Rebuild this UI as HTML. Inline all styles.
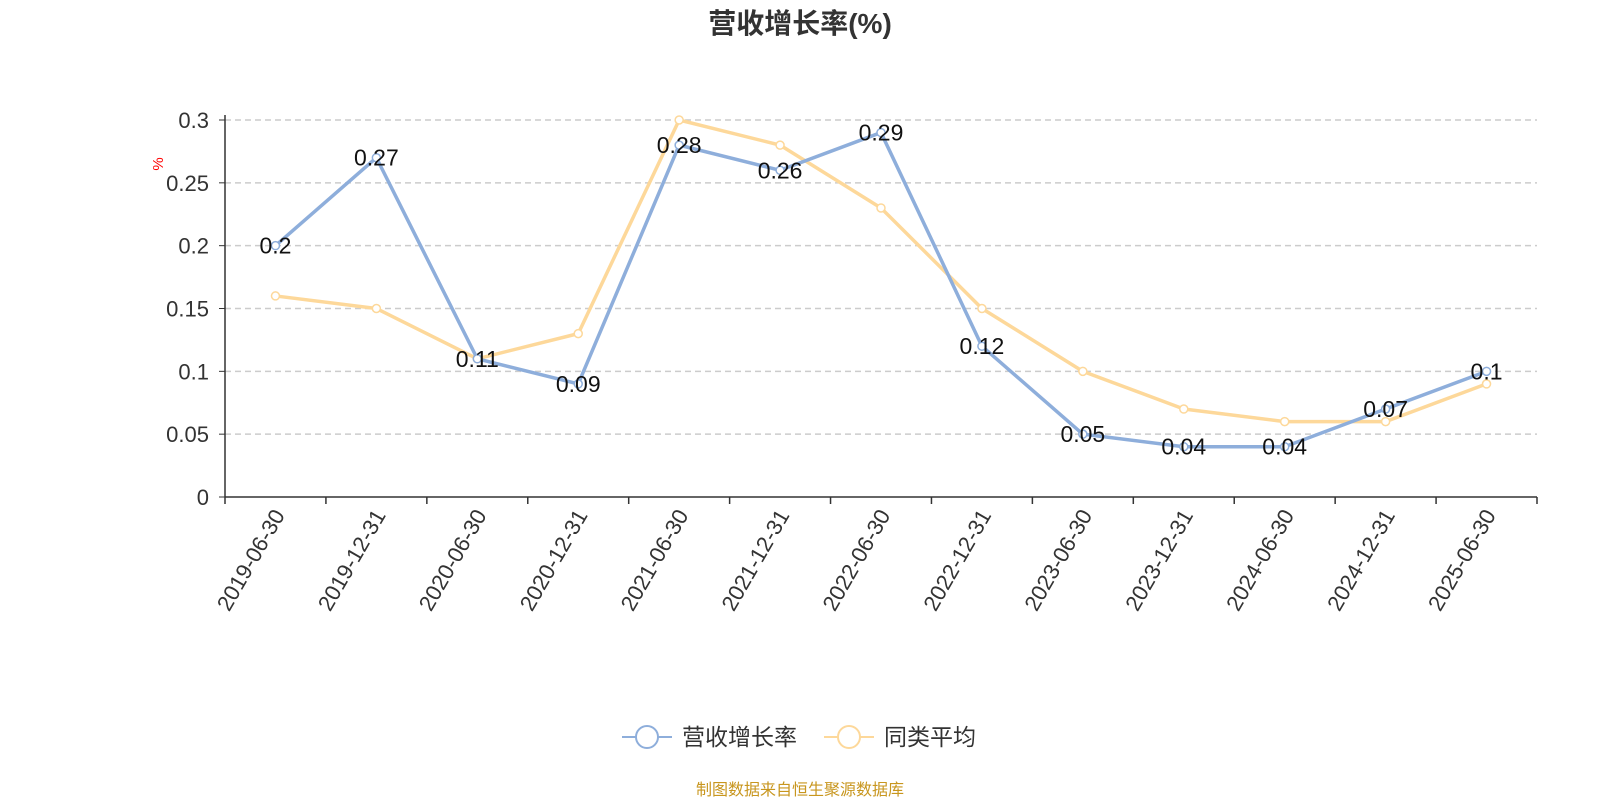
<!DOCTYPE html>
<html><head><meta charset="utf-8"><style>
html,body{margin:0;padding:0;background:#fff;width:1600px;height:800px;overflow:hidden}
svg{display:block;font-family:"Liberation Sans","Noto Sans CJK SC",sans-serif}
</style></head><body>
<svg id="chart" width="1600" height="800" viewBox="0 0 1600 800">
<text x="800" y="33" text-anchor="middle" font-size="28" font-weight="bold" fill="#333">营收增长率(%)</text>
<text x="163" y="164" text-anchor="middle" font-size="15" fill="red" transform="rotate(-90 163 164)">%</text>
<g id="grid"></g>
<g id="axes"></g>
<g id="series"></g>
<g>
<g>
<line x1="622" y1="737" x2="672" y2="737" stroke="#8eaedb" stroke-width="2"/>
<circle cx="647" cy="737" r="11" fill="#fff" stroke="#8eaedb" stroke-width="2"/>
<text x="682" y="745" font-size="23" fill="#333">营收增长率</text></g>
<g>
<line x1="824" y1="737" x2="874" y2="737" stroke="#fdd89a" stroke-width="2"/>
<circle cx="849" cy="737" r="11" fill="#fff" stroke="#fdd89a" stroke-width="2"/>
<text x="884" y="745" font-size="23" fill="#333">同类平均</text></g>
</g>
<text x="800" y="795" text-anchor="middle" font-size="16" fill="#c8961e">制图数据来自恒生聚源数据库</text>
</svg>
<script>
const categories=["2019-06-30","2019-12-31","2020-06-30","2020-12-31","2021-06-30","2021-12-31","2022-06-30","2022-12-31","2023-06-30","2023-12-31","2024-06-30","2024-12-31","2025-06-30"];
const revenueGrowth=[0.2,0.27,0.11,0.09,0.28,0.26,0.29,0.12,0.05,0.04,0.04,0.07,0.1];
const peerAverage=[0.16,0.15,0.11,0.13,0.30,0.28,0.23,0.15,0.10,0.07,0.06,0.06,0.09];
const yTicks=[0,0.05,0.1,0.15,0.2,0.25,0.3];
const yTickLabels=["0","0.05","0.1","0.15","0.2","0.25","0.3"];
const NS="http://www.w3.org/2000/svg";
const L=225,R=1537,T=120,B=497,YMAX=0.3;
const bw=(R-L)/categories.length;
function xPos(i){return L+bw*(i+0.5);}
function yPos(v){return B-(v/YMAX)*(B-T);}
function mk(tag,attrs,parent){const e=document.createElementNS(NS,tag);for(const k in attrs)e.setAttribute(k,attrs[k]);parent.appendChild(e);return e;}
const grid=document.getElementById('grid'),axes=document.getElementById('axes'),series=document.getElementById('series');
yTicks.forEach((v,i)=>{
 if(v>0){const g=mk('line',{x1:L,x2:R,y1:yPos(v),y2:yPos(v),stroke:'#ccc','stroke-dasharray':'6,4','stroke-width':1.5},grid);
 
 }
 const t=mk('text',{x:L-16,y:yPos(v)+8,'text-anchor':'end','font-size':22,fill:'#333'},axes);
 t.textContent=yTickLabels[i];
 
 
 mk('line',{x1:L-6,x2:L,y1:yPos(v),y2:yPos(v),stroke:'#333'},axes);
});
mk('line',{x1:L,x2:L,y1:T-5,y2:B,stroke:'#333','stroke-width':1.5},axes);
mk('line',{x1:L,x2:R,y1:B,y2:B,stroke:'#333','stroke-width':1.5},axes);
for(let i=0;i<=categories.length;i++){mk('line',{x1:L+bw*i,x2:L+bw*i,y1:B,y2:B+7,stroke:'#333','stroke-width':1.5},axes);}
categories.forEach((c,i)=>{
 const x=xPos(i)+10,y=B+18;
 const t=mk('text',{x:x,y:y,'text-anchor':'end','font-size':22,fill:'#333',transform:`rotate(-60 ${x} ${y})`},axes);
 t.textContent=c;
 
 
});
function drawLine(vals,color,name){
 const pts=vals.map((v,i)=>xPos(i)+','+yPos(v)).join(' ');
 const pl=mk('polyline',{points:pts,fill:'none',stroke:color,'stroke-width':3.5,'stroke-linejoin':'round'},series);
 
 
 vals.forEach((v,i)=>{
  const c=mk('circle',{cx:xPos(i),cy:yPos(v),r:4,fill:'#fff',stroke:color,'stroke-width':1.5},series);
  
  
 });
}
drawLine(peerAverage,'#fdd89a','peer-average');
drawLine(revenueGrowth,'#8eaedb','revenue-growth');
revenueGrowth.forEach((v,i)=>{
 const t=mk('text',{x:xPos(i),y:yPos(v)+8,'text-anchor':'middle','font-size':23,fill:'#111'},series);
 t.textContent=String(v);
 
 
});
</script>
</body></html>
